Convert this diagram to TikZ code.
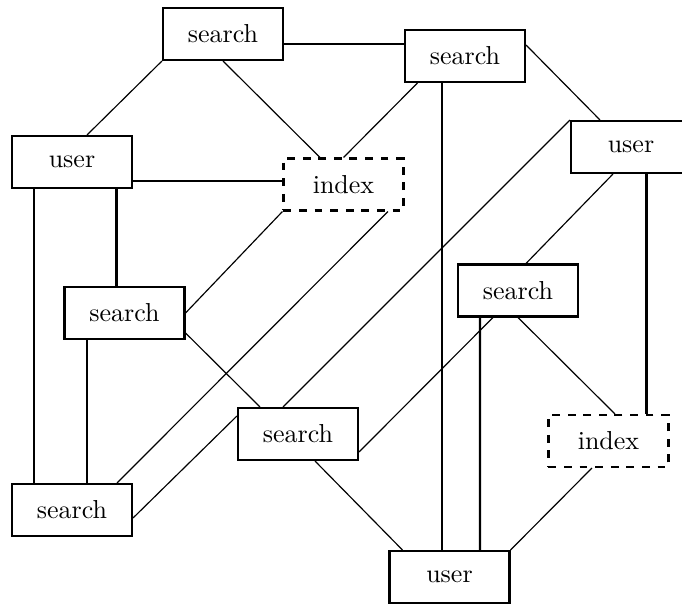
\documentclass[tikz,border=0pt]{standalone}
\usetikzlibrary{calc}

\begin{document}
\begin{tikzpicture}[
x=0.385pt, y=-0.385pt,
every node/.style={
draw,
line width=0.8pt,
minimum width=46.2pt,
minimum height=20pt,
inner sep=0pt
},
idx/.style={dashed},
bus/.style={line width=0.8pt},
link/.style={line width=0.45pt}
]
\path[use as bounding box, clip] (0,0) rectangle (682,608);

\node (s1) at (223,34) {search};
\node (s2) at (465,56) {search};
\node (u1) at (72,162) {user};
\node[idx] (i1) at (343.5,184.5) {index};
\node (u2) at (631,147) {user};
\node (s3) at (124.5,313) {search};
\node (s4) at (518,290.5) {search};
\node (s5) at (298,434) {search};
\node[idx] (i2) at (608.5,441) {index};
\node (s6) at (72,510) {search};
\node (u3) at (449.5,577) {user};

% straight links
\draw[bus] ($(s1.east)+(0,10)$) -- ($(s2.west)+(0,-12)$);
\draw[bus] ($(u1.east)+(0,19)$) -- ($(i1.west)+(0,-3.5)$);
\draw[bus] ($(u1.south)+(-38,0)$) -- ($(s6.north)+(-38,0)$);
\draw[bus] ($(u1.south)+(44.5,0)$) -- ($(s3.north)+(-8,0)$);
\draw[bus] ($(s3.south)+(-37.5,0)$) -- ($(s6.north)+(15,0)$);
\draw[bus] ($(s2.south)+(-23,0)$) -- ($(u3.north)+(-7.5,0)$);
\draw[bus] ($(s4.south)+(-38,0)$) -- ($(u3.north)+(30.5,0)$);
\draw[bus] ($(u2.south)+(15.5,0)$) -- ($(i2.north)+(38,0)$);

% diagonal links
\draw[link] (s1.south west) -- ($(u1.north)+(15,0)$);
\draw[link] (s1.south) -- ($(i1.north)+(-23.5,0)$);
\draw[link] ($(s2.south west)+(13.5,0)$) -- (i1.north);
\draw[link] ($(s2.east)+(0,-11)$) -- ($(u2.north)+(-31,0)$);
\draw[link] (u2.north west) -- ($(s5.north)+(-15,0)$);
\draw[link] ($(u2.south)+(-18,0)$) -- ($(s4.north)+(8,0)$);
\draw[link] (i1.south west) -- (s3.east);
\draw[link] ($(i1.south)+(44.5,0)$) -- ($(s6.north east)+(-16,0)$);
\draw[link] ($(s3.east)+(0,20)$) -- ($(s5.north)+(-38,0)$);
\draw[link] ($(s4.south)+(-25,0)$) -- ($(s5.east)+(0,18)$);
\draw[link] (s4.south) -- ($(i2.north)+(6.5,0)$);
\draw[link] ($(s5.north west)+(0,9)$) -- ($(s6.east)+(0,8)$);
\draw[link] ($(s5.south)+(17,0)$) -- ($(u3.north west)+(14,0)$);
\draw[link] ($(i2.south)+(-16.5,0)$) -- (u3.north east);

\end{tikzpicture}
\end{document}
